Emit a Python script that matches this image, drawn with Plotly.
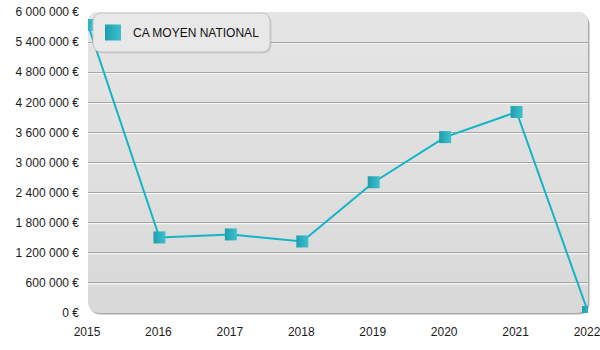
import plotly.graph_objects as go

years = [2015, 2016, 2017, 2018, 2019, 2020, 2021, 2022]
ca_moyen = [5740000, 1506000, 1566000, 1426000, 2606000, 3506000, 4006000, 20000]
series_name = "CA MOYEN NATIONAL"
y_max = 6000000
y_step = 600000

W, H = 600, 350
ML, MR, MT, MB = 88, 12, 12, 37
pw, ph = W - ML - MR, H - MT - MB

fig = go.Figure()

fig.add_trace(go.Scatter(
    x=years, y=ca_moyen, mode="lines+markers", name=series_name,
    line=dict(color="#14b4c7", width=2),
    marker=dict(symbol="square", size=12, color="#1e9fae",
                gradient=dict(type="horizontal", color="#3fc0cc"),
                line=dict(width=0)),
    cliponaxis=True, showlegend=False,
))
fig.add_trace(go.Scatter(
    x=[None], y=[None], mode="markers", name=series_name,
    marker=dict(symbol="square", size=18, color="#1e9fae",
                gradient=dict(type="horizontal", color="#3fc0cc")),
))


def rounded(x0, y0, x1, y1, r):
    rx, ry = r / pw, r / ph
    return (f"M {x0+rx},{y0} L {x1-rx},{y0} Q {x1},{y0} {x1},{y0+ry} "
            f"L {x1},{y1-ry} Q {x1},{y1} {x1-rx},{y1} L {x0+rx},{y1} "
            f"Q {x0},{y1} {x0},{y1-ry} L {x0},{y0+ry} Q {x0},{y0} {x0+rx},{y0} Z")


def rounded_top(y0, r):
    rx, ry = r / pw, r / ph
    return (f"M 0,{y0} L 1,{y0} L 1,{1-ry} Q 1,1 {1-rx},1 L {rx},1 "
            f"Q 0,1 0,{1-ry} Z")


def px_x(p):
    return (p - ML) / pw


def px_y(p):
    return 1 - (p - MT) / ph


shapes = []
R = 12
# plot-area shadow
shapes.append(dict(type="path", xref="paper", yref="paper", layer="below",
                   path=rounded(1.5 / pw, -1.5 / ph, 1 + 1.5 / pw, 1 - 1.5 / ph, R),
                   fillcolor="#ababab", line=dict(width=0)))
# plot-area background, vertical gradient built from stacked bands
shapes.append(dict(type="path", xref="paper", yref="paper", layer="below",
                   path=rounded(0, 0, 1, 1, R),
                   fillcolor="#d9d9d9", line=dict(width=0)))
bands = 14
c_bot, c_top = 217, 229
for i in range(1, bands):
    v = round(c_bot + (c_top - c_bot) * i / (bands - 1))
    shapes.append(dict(type="path", xref="paper", yref="paper", layer="below",
                       path=rounded_top(i / bands, R),
                       fillcolor=f"rgb({v},{v},{v})", line=dict(width=0)))
# white highlight under each gridline
tick = y_step
while tick < y_max:
    shapes.append(dict(type="line", xref="paper", yref="y", layer="between",
                       x0=0, x1=1, ysizemode="pixel", yanchor=tick, y0=-1, y1=-1,
                       line=dict(color="rgba(255,255,255,0.9)", width=1)))
    tick += y_step

# legend box (rounded) with shadow
shapes.append(dict(type="path", xref="paper", yref="paper", layer="above",
                   path=rounded(px_x(94.5), px_y(53.5), px_x(271.5), px_y(14.5), 9),
                   fillcolor="rgba(0,0,0,0.12)", line=dict(width=0)))
shapes.append(dict(type="path", xref="paper", yref="paper", layer="above",
                   path=rounded(px_x(93), px_y(52), px_x(270), px_y(13), 9),
                   fillcolor="#e8e8e8", line=dict(color="#c4c4c4", width=1)))

fig.update_layout(
    width=W, height=H,
    margin=dict(l=ML, r=MR, t=MT, b=MB, autoexpand=False),
    paper_bgcolor="white", plot_bgcolor="rgba(0,0,0,0)",
    separators=", ",
    font=dict(family="Liberation Sans, Arial, sans-serif", size=12, color="#1a1a1a"),
    shapes=shapes,
    showlegend=True,
    legend=dict(x=px_x(93), y=px_y(32.5), xanchor="left", yanchor="middle",
                bgcolor="rgba(0,0,0,0)", borderwidth=0,
                font=dict(size=12, color="#111111")),
    xaxis=dict(range=[years[0], years[-1]], tickvals=years, showgrid=False,
               zeroline=False, showline=False, ticks="", ticklabelstandoff=10,
               ticklabelshift=-1, ticklabeloverflow="allow", automargin=False),
    yaxis=dict(range=[0, y_max], dtick=y_step, tick0=0, tickformat=",d",
               ticksuffix=" €", showgrid=True, gridcolor="#a6a6a6", gridwidth=1,
               zeroline=False, showline=False, ticks="", ticklabelstandoff=8,
               ticklabeloverflow="allow", automargin=False),
)

fig.write_html("out.html")
